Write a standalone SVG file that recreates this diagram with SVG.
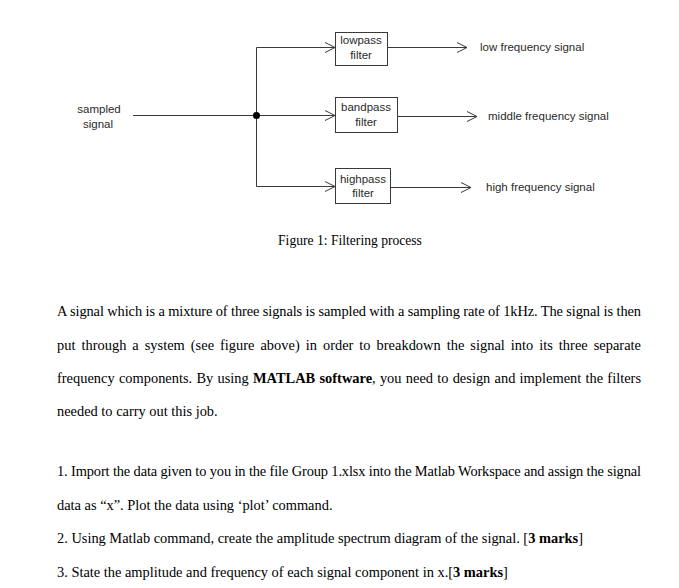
<svg xmlns="http://www.w3.org/2000/svg" width="679" height="588" viewBox="0 0 679 588">
<defs>
<marker id="chev" markerUnits="userSpaceOnUse" markerWidth="12" markerHeight="12" refX="10" refY="5" orient="auto" overflow="visible">
<path d="M0,0 L10,5 L0,10" fill="none" stroke="#3a3a3a" stroke-width="1"/>
</marker>
</defs>
<style>
.ln{stroke:#3a3a3a;stroke-width:1;fill:none}
.box{fill:#fff;stroke:#3a3a3a;stroke-width:1}
.dt{font-family:"Liberation Sans",Arial,sans-serif;font-size:11.5px;fill:#2a2a2a}
.c{text-anchor:middle}
.tt{font-family:"Liberation Serif","Times New Roman",serif;font-size:14.4px;fill:#000}
.cap{font-size:13.6px}
.b{font-weight:bold}
</style>
<rect width="679" height="588" fill="#fff"/>
<g id="connectors">
<line class="ln" x1="133" y1="115.5" x2="256.5" y2="115.5"/>
<line class="ln" x1="256.5" y1="47.5" x2="256.5" y2="186.5"/>
<line class="ln" x1="256.5" y1="47.5" x2="335" y2="47.5" marker-end="url(#chev)"/>
<line class="ln" x1="256.5" y1="115.5" x2="335" y2="115.5" marker-end="url(#chev)"/>
<line class="ln" x1="256.5" y1="186.5" x2="335" y2="186.5" marker-end="url(#chev)"/>
<line class="ln" x1="388" y1="47.5" x2="467" y2="47.5" marker-end="url(#chev)"/>
<line class="ln" x1="398" y1="116.5" x2="477" y2="116.5" marker-end="url(#chev)"/>
<line class="ln" x1="391" y1="187.5" x2="471" y2="187.5" marker-end="url(#chev)"/>
<circle cx="256.5" cy="115.5" r="3.5" fill="#000"/>
</g>
<g id="input">
<text class="dt c" x="99" y="113">sampled</text>
<text class="dt c" x="98" y="128">signal</text>
</g>
<g id="lowpass">
<rect class="box" x="335.5" y="32.5" width="52" height="33"/>
<text class="dt c" x="361" y="44">lowpass</text>
<text class="dt c" x="361" y="59">filter</text>
</g>
<g id="bandpass">
<rect class="box" x="335.5" y="97.5" width="62" height="35"/>
<text class="dt c" x="366" y="111">bandpass</text>
<text class="dt c" x="366" y="125.5">filter</text>
</g>
<g id="highpass">
<rect class="box" x="335.5" y="168.5" width="55" height="35"/>
<text class="dt c" x="363" y="183">highpass</text>
<text class="dt c" x="363" y="197">filter</text>
</g>
<g id="out-low"><text class="dt" x="480" y="51">low frequency signal</text></g>
<g id="out-mid"><text class="dt" x="488" y="120">middle frequency signal</text></g>
<g id="out-high"><text class="dt" x="486" y="191">high frequency signal</text></g>
<g id="text">
<text class="tt cap c" x="350" y="245">Figure 1: Filtering process</text>
<text class="tt" x="57" y="316" textLength="584" lengthAdjust="spacing">A signal which is a mixture of three signals is sampled with a sampling rate of 1kHz. The signal is then</text>
<text class="tt" x="57" y="350" word-spacing="2.3" textLength="584" lengthAdjust="spacing">put through a system (see figure above) in order to breakdown the signal into its three separate</text>
<text class="tt" x="57" y="383" word-spacing="0.6" textLength="584" lengthAdjust="spacing">frequency components. By using <tspan class="b">MATLAB software</tspan>, you need to design and implement the filters</text>
<text class="tt" x="57" y="416">needed to carry out this job.</text>
<text class="tt" x="57" y="476" textLength="584" lengthAdjust="spacing">1. Import the data given to you in the file Group 1.xlsx into the Matlab Workspace and assign the signal</text>
<text class="tt" x="57" y="510">data as “x”. Plot the data using ‘plot’ command.</text>
<text class="tt" x="57" y="543">2. Using Matlab command, create the amplitude spectrum diagram of the signal. [<tspan class="b">3 marks</tspan>]</text>
<text class="tt" x="57" y="577">3. State the amplitude and frequency of each signal component in x.[<tspan class="b">3 marks</tspan>]</text>
</g>
</svg>
